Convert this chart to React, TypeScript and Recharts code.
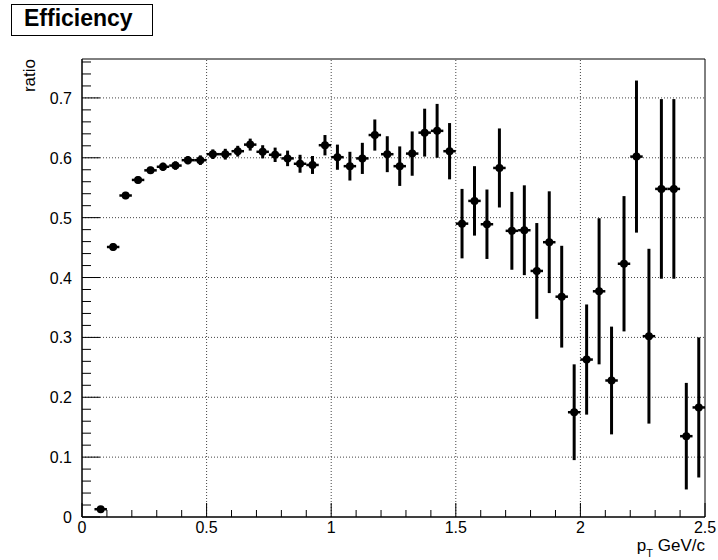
import React from 'react';
import { ScatterChart, Scatter, XAxis, YAxis, ErrorBar, ReferenceLine, ReferenceArea } from 'recharts';

// pT bin centres (GeV/c), bin width 0.05
const PT = [
  0.075, 0.125, 0.175, 0.225, 0.275, 0.325, 0.375, 0.425, 0.475, 0.525,
  0.575, 0.625, 0.675, 0.725, 0.775, 0.825, 0.875, 0.925, 0.975, 1.025,
  1.075, 1.125, 1.175, 1.225, 1.275, 1.325, 1.375, 1.425, 1.475, 1.525,
  1.575, 1.625, 1.675, 1.725, 1.775, 1.825, 1.875, 1.925, 1.975, 2.025,
  2.075, 2.125, 2.175, 2.225, 2.275, 2.325, 2.375, 2.425, 2.475,
];

const EFF = [
  0.013, 0.451, 0.537, 0.563, 0.579, 0.585, 0.587, 0.596, 0.596, 0.606,
  0.606, 0.611, 0.622, 0.610, 0.605, 0.599, 0.590, 0.588, 0.621, 0.601,
  0.586, 0.599, 0.638, 0.606, 0.586, 0.607, 0.642, 0.645, 0.611, 0.490,
  0.528, 0.489, 0.583, 0.478, 0.479, 0.411, 0.459, 0.368, 0.175, 0.263,
  0.377, 0.228, 0.423, 0.602, 0.302, 0.548, 0.548, 0.135, 0.183,
];

const EFF_ERR = [
  0.005, 0.006, 0.006, 0.006, 0.006, 0.007, 0.007, 0.007, 0.008, 0.008,
  0.009, 0.009, 0.010, 0.011, 0.012, 0.013, 0.015, 0.015, 0.017, 0.021,
  0.024, 0.026, 0.026, 0.030, 0.033, 0.037, 0.040, 0.045, 0.047, 0.058,
  0.058, 0.058, 0.066, 0.065, 0.075, 0.080, 0.085, 0.085, 0.080, 0.092,
  0.122, 0.090, 0.113, 0.127, 0.146, 0.150, 0.150, 0.089, 0.117,
];

const BIN_HALF = 0.025;

const X_MAJOR = [0, 0.5, 1, 1.5, 2, 2.5];
const Y_MAJOR = [0, 0.1, 0.2, 0.3, 0.4, 0.5, 0.6, 0.7];
const X_GRID = [0.5, 1, 1.5, 2];
const Y_GRID = [0.1, 0.2, 0.3, 0.4, 0.5, 0.6, 0.7];
const X_MAX = 2.5;
const Y_MAX = 0.765;

// minor ticks: 0.1 on x, 0.02 on y
const X_TICKS = Array.from({ length: 26 }, (_, i) => i / 10);
const Y_TICKS = Array.from({ length: 39 }, (_, i) => (i * 2) / 100);

const FONT = '"Liberation Sans", Arial, Helvetica, sans-serif';

const points = PT.map((pt, i) => ({ pt, eff: EFF[i], ey: EFF_ERR[i], ex: BIN_HALF }));

const findMajor = (list: number[], v: number) => list.find((m) => Math.abs(m - v) < 1e-6);

function XTick(props: any) {
  const { x, y, payload } = props;
  const major = findMajor(X_MAJOR, payload.value);
  const isMajor = major !== undefined;
  return (
    <g>
      <line x1={x} x2={x} y1={y} y2={y - (isMajor ? 14 : 7)} stroke="#000" strokeWidth={1} />
      {isMajor && (
        <text x={x} y={y + 16} textAnchor="middle" fontSize={16} fontFamily={FONT} fill="#000">
          {String(major)}
        </text>
      )}
    </g>
  );
}

function YTick(props: any) {
  const { x, y, payload } = props;
  const major = findMajor(Y_MAJOR, payload.value);
  const isMajor = major !== undefined;
  return (
    <g>
      <line x1={x} x2={x + (isMajor ? 18 : 9)} y1={y} y2={y} stroke="#000" strokeWidth={1} />
      {isMajor && (
        <text x={x - 10} y={y + 6} textAnchor="end" fontSize={16} fontFamily={FONT} fill="#000">
          {String(major)}
        </text>
      )}
    </g>
  );
}

const Marker = (p: any) => <circle cx={p.cx} cy={p.cy} r={4} fill="#000" />;

export default function App() {
  return (
    <div style={{ position: 'absolute', left: 0, top: 0, width: 718, height: 560, background: '#fff' }}>
      <ScatterChart width={718} height={560} margin={{ top: 59, right: 13, bottom: 13, left: 32 }}>
        <XAxis
          type="number"
          dataKey="pt"
          domain={[0, X_MAX]}
          ticks={X_TICKS}
          interval={0}
          height={30}
          tickSize={0}
          tickMargin={0}
          tickLine={false}
          axisLine={{ stroke: '#000' }}
          tick={<XTick />}
          allowDataOverflow
        />
        <YAxis
          type="number"
          dataKey="eff"
          domain={[0, Y_MAX]}
          ticks={Y_TICKS}
          interval={0}
          width={50}
          tickSize={0}
          tickMargin={0}
          tickLine={false}
          axisLine={{ stroke: '#000' }}
          tick={<YTick />}
          allowDataOverflow
        />
        {X_GRID.map((v) => (
          <ReferenceLine key={'gx' + v} x={v} stroke="#444" strokeDasharray="1 2" />
        ))}
        {Y_GRID.map((v) => (
          <ReferenceLine key={'gy' + v} y={v} stroke="#444" strokeDasharray="1 2" />
        ))}
        <ReferenceArea x1={0} x2={X_MAX} y1={0} y2={Y_MAX} fill="none" stroke="#000" strokeWidth={1} />
        <Scatter data={points} dataKey="eff" shape={Marker} isAnimationActive={false}>
          <ErrorBar dataKey="ey" direction="y" width={0} stroke="#000" strokeWidth={3} isAnimationActive={false} />
          <ErrorBar dataKey="ex" direction="x" width={0} stroke="#000" strokeWidth={2.5} isAnimationActive={false} />
        </Scatter>
      </ScatterChart>
      <svg
        width={718}
        height={560}
        style={{ position: 'absolute', left: 0, top: 0, pointerEvents: 'none' }}
        fontFamily={FONT}
      >
        <rect x={11.5} y={4.5} width={141} height={31} fill="#fff" stroke="#000" strokeWidth={1} />
        <text x={24} y={26} fontSize={23} fontWeight="bold" fill="#000">
          Efficiency
        </text>
        <text x={35} y={59} fontSize={17} fill="#000" textAnchor="end" transform="rotate(-90 35 59)">
          ratio
        </text>
        <text x={705} y={551} fontSize={17} fill="#000" textAnchor="end">
          p<tspan dy={6} fontSize={11}>T</tspan>
          <tspan dy={-6}> GeV/c</tspan>
        </text>
      </svg>
    </div>
  );
}
